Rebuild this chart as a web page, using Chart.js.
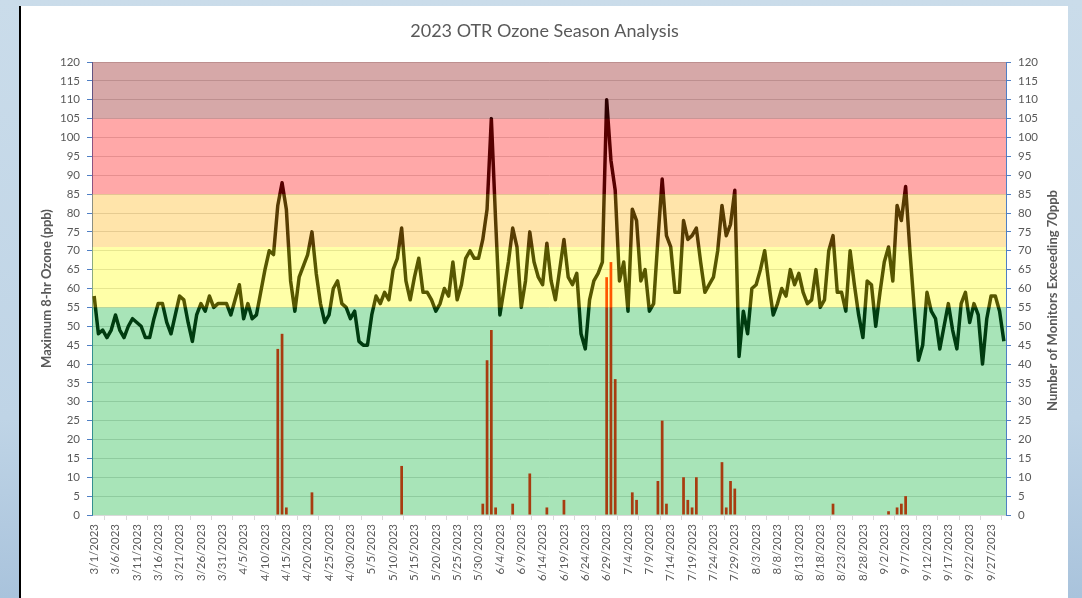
<!DOCTYPE html>
<html lang="en">
<head>
<meta charset="UTF-8">
<title>2023 OTR Ozone Season Analysis</title>
<script src="https://cdn.jsdelivr.net/npm/chart.js"></script>
<style>
  html, body { margin: 0; padding: 0; }
  body {
    width: 1082px; height: 598px; overflow: hidden; position: relative;
    background: linear-gradient(to bottom, #cadcea 0%, #bfd4e6 70%, #a9c3dc 100%);
  }
  #card {
    position: absolute; left: 19px; top: 6px; width: 1047px; height: 592px;
    background: #fff; border-left: 2px solid #000;
  }
</style>
</head>
<body>
<div id="card"><canvas id="ozoneChart" width="1047" height="592"></canvas></div>

<script>
// season days 3/1/2023 .. 9/30/2023
const days = [];
for (let d = new Date(2023, 2, 1); d <= new Date(2023, 8, 30); d.setDate(d.getDate() + 1)) {
    days.push((d.getMonth() + 1) + '/' + d.getDate() + '/' + d.getFullYear());
}

// max 8-hr ozone (ppb), one value per day, by month
const ozoneMar = [58,48,49,47,49,53,49,47,50,52, 51,50,47,47,52,56,56,51,48,53, 58,57,51,46,53,56,54,58,55,56, 56];
const ozoneApr = [56,53,57,61,52,56,52,53,59,65, 70,69,82,88,81,62,54,63,66,69, 75,64,56,51,53,60,62,56,55,52];
const ozoneMay = [54,46,45,45,53,58,56,59,57,65, 68,76,62,57,63,68,59,59,57,54, 56,60,58,67,57,61,68,70,68,68, 73];
const ozoneJun = [81,105,78,53,60,67,76,71,55,62, 75,67,63,61,72,62,57,65,73,63, 61,64,48,44,57,62,64,67,110,94];
const ozoneJul = [86,62,67,54,81,78,62,65,54,56, 73,89,74,71,59,59,78,73,74,76, 67,59,61,63,70,82,74,77,86,42, 54];
const ozoneAug = [48,60,61,65,70,61,53,56,60,58, 65,61,64,59,56,57,65,55,57,70, 74,59,59,54,70,61,53,47,62,61, 50];
const ozoneSep = [59,67,71,62,82,78,87,70,55,41, 45,59,54,52,44,50,56,49,44,56, 59,51,56,53,40,52,58,58,54,46];

// number of monitors exceeding 70 ppb, by month
const monMar = [0,0,0,0,0,0,0,0,0,0, 0,0,0,0,0,0,0,0,0,0, 0,0,0,0,0,0,0,0,0,0, 0];
const monApr = [0,0,0,0,0,0,0,0,0,0, 0,0,44,48,2,0,0,0,0,0, 6,0,0,0,0,0,0,0,0,0];
const monMay = [0,0,0,0,0,0,0,0,0,0, 0,13,0,0,0,0,0,0,0,0, 0,0,0,0,0,0,0,0,0,0, 3];
const monJun = [41,49,2,0,0,0,3,0,0,0, 11,0,0,0,2,0,0,0,4,0, 0,0,0,0,0,0,0,0,63,67];
const monJul = [36,0,0,0,6,4,0,0,0,0, 9,25,3,0,0,0,10,4,2,10, 0,0,0,0,0,14,2,9,7,0, 0];
const monAug = [0,0,0,0,0,0,0,0,0,0, 0,0,0,0,0,0,0,0,0,0, 3,0,0,0,0,0,0,0,0,0, 0];
const monSep = [0,0,1,0,2,3,5,0,0,0, 0,0,0,0,0,0,0,0,0,0, 0,0,0,0,0,0,0,0,0,0];

// AQI-style bands on the ozone axis
const bandEdges = [0, 55, 71, 85, 105, 120];

const ozone = [].concat(ozoneMar, ozoneApr, ozoneMay, ozoneJun, ozoneJul, ozoneAug, ozoneSep);
const monitors = [].concat(monMar, monApr, monMay, monJun, monJul, monAug, monSep);

const txtColor = '#595959';
const axisBlue = '#4f7fc4';
const fontName = 'Lato, "Open Sans", sans-serif';

// coloured bands laid over the plot, semi-transparent like the original
const bandPlugin = {
    id: 'bands',
    afterDatasetsDraw(chart) {
        const colors = ['rgba(0,176,46,0.34)', 'rgba(255,255,0,0.34)', 'rgba(255,176,5,0.34)',
                        'rgba(255,0,0,0.34)', 'rgba(134,0,0,0.34)'];
        const {ctx, chartArea, scales} = chart;
        ctx.save();
        for (let i = 0; i < bandEdges.length - 1; i++) {
            const top = scales.y.getPixelForValue(bandEdges[i + 1]);
            const bottom = scales.y.getPixelForValue(bandEdges[i]);
            ctx.fillStyle = colors[i];
            ctx.fillRect(chartArea.left, top, chartArea.right - chartArea.left, bottom - top);
        }
        ctx.restore();
    },
    afterDraw(chart) {
        // right axis title reads bottom-to-top like the left one
        const {ctx, chartArea} = chart;
        ctx.save();
        ctx.translate(chart.width - 15, (chartArea.top + chartArea.bottom) / 2 + 12);
        ctx.rotate(-Math.PI / 2);
        ctx.fillStyle = txtColor;
        ctx.font = 'bold 13px ' + fontName;
        ctx.textAlign = 'center';
        ctx.textBaseline = 'middle';
        ctx.fillText('Number of Monitors Exceeding 70ppb', 0, 0);
        ctx.restore();
    }
};

const ctx = document.getElementById('ozoneChart').getContext('2d');
const ozoneChart = new Chart(ctx, {
    type: 'bar',
    data: {
        labels: days,
        datasets: [{
            type: 'line',
            label: 'Maximum 8-hr Ozone (ppb)',
            data: ozone,
            yAxisID: 'y',
            borderColor: '#000',
            borderWidth: 3.5,
            borderJoinStyle: 'round',
            pointRadius: 0,
            tension: 0
        }, {
            type: 'bar',
            label: 'Number of Monitors Exceeding 70ppb',
            data: monitors,
            yAxisID: 'y1',
            backgroundColor: '#ff0000',
            barPercentage: 0.8,
            categoryPercentage: 0.8
        }]
    },
    options: {
        responsive: false,
        animation: false,
        layout: { padding: 0 },
        plugins: {
            legend: { display: false },
            tooltip: { enabled: false },
            title: {
                display: true,
                text: '2023 OTR Ozone Season Analysis',
                color: txtColor,
                font: { family: fontName, size: 18, weight: 'normal' },
                padding: { top: 14, bottom: 20.4 }
            }
        },
        scales: {
            x: {
                grid: { offset: true, drawOnChartArea: false, color: '#d9d9d9', tickLength: 5 },
                border: { color: '#d9d9d9' },
                ticks: {
                    autoSkip: false,
                    maxRotation: 90,
                    minRotation: 90,
                    padding: 4,
                    color: txtColor,
                    font: { family: fontName, size: 11.5 },
                    callback(value, index) {
                        return index % 5 === 0 ? this.getLabelForValue(value) : null;
                    }
                },
                afterFit(scale) { scale.height = 83; }
            },
            y: {
                position: 'left',
                min: 0,
                max: 120,
                ticks: { stepSize: 5, padding: 7, color: txtColor, font: { family: fontName, size: 11.5 } },
                grid: { color: '#d9d9d9', tickColor: axisBlue, tickLength: 5 },
                border: { color: axisBlue },
                title: {
                    display: true,
                    text: 'Maximum 8-hr Ozone (ppb)',
                    color: txtColor,
                    font: { family: fontName, size: 13, weight: 'bold' },
                    padding: { top: 18, bottom: 0 }
                },
                afterFit(scale) { scale.width = 71; }
            },
            y1: {
                position: 'right',
                min: 0,
                max: 120,
                ticks: { stepSize: 5, padding: 7, color: txtColor, font: { family: fontName, size: 11.5 } },
                grid: { drawOnChartArea: false, tickColor: axisBlue, tickLength: 5 },
                border: { color: axisBlue },
                afterFit(scale) { scale.width = 62; }
            }
        }
    },
    plugins: [bandPlugin]
});
</script>
</body>
</html>
